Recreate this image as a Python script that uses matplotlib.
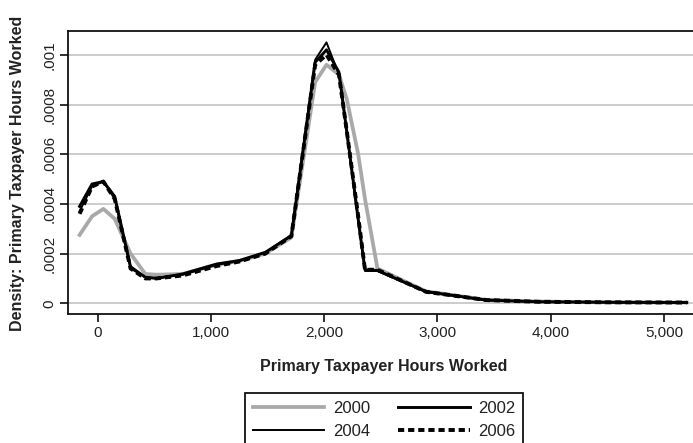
import numpy as np
import matplotlib
matplotlib.use("Agg")
import matplotlib.pyplot as plt

plt.rcParams['font.family'] = ['Liberation Sans', 'DejaVu Sans']

# density of primary taxpayer hours worked, by year
hours = [-160, -50, 50, 150, 290, 420, 520, 750, 1050, 1250, 1480, 1710,
         1920, 2020, 2130, 2200, 2300, 2360, 2470, 2900, 3430, 3900, 4500, 5200]

d2000 = [0.000275, 0.00035, 0.00038, 0.00034, 0.00020, 0.000118, 0.000115,
         0.000118, 0.000155, 0.000170, 0.000200, 0.000265, 0.00089, 0.00096,
         0.00092, 0.00082, 0.00060, 0.00042, 0.00014, 0.000048, 0.000014,
         0.000007, 0.000004, 0.000003]
d2002 = [0.00039, 0.00048, 0.00049, 0.00043, 0.000147, 0.000105, 0.000100,
         0.000118, 0.000158, 0.000172, 0.000205, 0.000272, 0.00097, 0.00102,
         0.00093, 0.00069, 0.00034, 0.000135, 0.000132, 0.000047, 0.000013,
         0.000006, 0.000004, 0.000003]
d2004 = [0.00037, 0.00047, 0.00049, 0.00042, 0.00014, 0.000105, 0.000102,
         0.000115, 0.000155, 0.000170, 0.000205, 0.000275, 0.00098, 0.00105,
         0.00092, 0.00068, 0.00033, 0.000130, 0.000130, 0.000045, 0.000012,
         0.000006, 0.000004, 0.000003]
d2006 = [0.00036, 0.00047, 0.00049, 0.00042, 0.000140, 0.000100, 0.000100,
         0.000112, 0.000150, 0.000168, 0.000200, 0.000270, 0.00096, 0.00100,
         0.00092, 0.00069, 0.00035, 0.000135, 0.000135, 0.000046, 0.000013,
         0.000006, 0.000004, 0.000003]

yticks = [0, 0.0002, 0.0004, 0.0006, 0.0008, 0.001]
ytick_labels = ["0", ".0002", ".0004", ".0006", ".0008", ".001"]
xticks = [0, 1000, 2000, 3000, 4000, 5000]
xtick_labels = ["0", "1,000", "2,000", "3,000", "4,000", "5,000"]

fig = plt.figure(figsize=(6.93, 4.43), dpi=100)
ax = fig.add_axes([0.09856, 0.29007, 0.91154, 0.63883])

ax.set_yticks(yticks)
ax.grid(axis='y', color='#c8c8c8', linewidth=1.3)
ax.set_axisbelow(True)

l0, = ax.plot(hours, d2000, color='#a9a9a9', linewidth=2.7, label='2000')
l2, = ax.plot(hours, d2002, color='black', linewidth=2.1, label='2002')
l4, = ax.plot(hours, d2004, color='black', linewidth=1.4, label='2004')
l6, = ax.plot(hours, d2006, color='black', linewidth=2.8,
              dashes=(1.6, 1.0), label='2006')

ax.set_xlim(-259.6, 5318)
ax.set_ylim(-0.0000451, 0.0010938)

ax.set_xticks(xticks)
ax.set_xticklabels(xtick_labels)
ax.set_yticklabels(ytick_labels, rotation=90, va='center')
ax.tick_params(axis='both', length=5.5, width=1.3, color='#222222',
               labelsize=11, labelcolor='#222222', pad=3)

for s in ax.spines.values():
    s.set_linewidth(1.3)
    s.set_color('#111111')

ax.set_xlabel("Primary Taxpayer Hours Worked", fontsize=11.5,
              fontweight='bold', color='#222222', va='center')
ax.xaxis.set_label_coords(0.5, -0.1837)
ax.set_ylabel("Density: Primary Taxpayer Hours Worked", fontsize=11.5,
              fontweight='bold', color='#222222', va='center')
ax.yaxis.set_label_coords(-0.0807, 0.5)

# legend filled row by row: 2000 2002 / 2004 2006
leg = fig.legend([l0, l4, l2, l6], ['2000', '2004', '2002', '2006'],
                 ncol=2, loc='upper center',
                 bbox_to_anchor=(384 / 693, 1 - 385 / 443),
                 fontsize=12, handlelength=4.3, handletextpad=0.5,
                 columnspacing=1.7, borderpad=0.45, labelspacing=0.5,
                 fancybox=False, edgecolor='#111111', framealpha=1)
leg.get_frame().set_linewidth(1.3)
for t in leg.get_texts():
    t.set_color('#222222')

fig.savefig("out.png", dpi=100)
